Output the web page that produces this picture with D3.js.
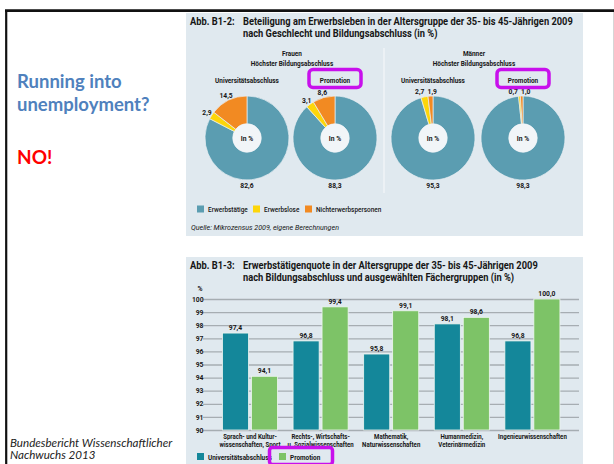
<!DOCTYPE html>
<html><head><meta charset="utf-8">
<script src="https://cdn.jsdelivr.net/npm/d3@7"></script>
<style>
html,body{margin:0;padding:0;background:#fff;}
svg{display:block;}
</style></head>
<body>
<svg id="c" width="614" height="464"></svg>
<script>
// ---------- data ----------
const pieCategories = ["Erwerbstätige", "Erwerbslose", "Nichterwerbspersonen"];
const pieGroups = ["Frauen", "Männer"];
const pieTitles = ["Universitätsabschluss", "Promotion"];
const frauenUni = [82.6, 2.9, 14.5];
const frauenPromo = [88.3, 3.1, 8.6];
const maennerUni = [95.3, 2.7, 1.9];
const maennerPromo = [98.3, 0.7, 1.0];

const barCategories = [
  ["Sprach- und Kultur-", "wissenschaften, Sport"],
  ["Rechts-, Wirtschafts-", "u. Sozialwissenschaften"],
  ["Mathematik,", "Naturwissenschaften"],
  ["Humanmedizin,", "Veterinärmedizin"],
  ["Ingenieurwissenschaften"]
];
const barSeries = ["Universitätsabschluss", "Promotion"];
const uniValues = [97.4, 96.8, 95.8, 98.1, 96.8];
const promoValues = [94.1, 99.4, 99.1, 98.6, 100.0];
const yTicks = [90, 91, 92, 93, 94, 95, 96, 97, 98, 99, 100];

// ---------- styles ----------
const pieColors = ["#5b9db1", "#fdd60a", "#f28a22"];
const barColors = ["#14879a", "#7dc367"];
const panelBg = "#e0e9ef";
const magenta = "#c810ec";
const ink = "#161616";
const FONT = "Roboto, 'Noto Sans', sans-serif";
const fmt = v => d3.format(".1f")(v).replace(".", ",");

const svg = d3.select("#c");

function measure(str, size, weight, style) {
  const t = svg.append("text").attr("font-family", FONT).attr("font-size", size)
    .attr("font-weight", weight).attr("font-style", style).text(str);
  const w = t.node().getComputedTextLength();
  t.remove();
  return w;
}
// condensed-style factor: width of a reference string at a given size
function cond(str, size, target, weight = "bold", style = "normal") {
  return target / measure(str, size, weight, style);
}
// condensed text helper (real text, horizontally compressed)
function T(parent, x, y, str, o = {}) {
  return parent.append("text")
    .attr("transform", `translate(${x},${y}) scale(${o.sx ?? 0.8},1)`)
    .attr("font-family", FONT)
    .attr("font-weight", o.weight ?? "bold")
    .attr("font-style", o.style ?? "normal")
    .attr("font-size", o.size ?? 7.5)
    .attr("text-anchor", o.anchor ?? "start")
    .attr("fill", o.fill ?? ink)
    .text(str);
}

// slide frame
svg.append("rect").attr("x", 0).attr("y", 0).attr("width", 614).attr("height", 464).attr("fill", "#fff");
svg.append("line").attr("x1", 613.5).attr("x2", 613.5).attr("y1", 12).attr("y2", 464).attr("stroke", "#d6d6d6").attr("stroke-width", 1);

// panels
svg.append("rect").attr("x", 186).attr("y", 13).attr("width", 397).attr("height", 223).attr("fill", panelBg);
svg.append("rect").attr("x", 186).attr("y", 257).attr("width", 397).attr("height", 207).attr("fill", panelBg);

svg.append("line").attr("x1", 5).attr("x2", 614).attr("y1", 10.7).attr("y2", 10.7).attr("stroke", "#111").attr("stroke-width", 2.8);
svg.append("line").attr("x1", 6.2).attr("x2", 6.2).attr("y1", 10).attr("y2", 464).attr("stroke", "#111").attr("stroke-width", 2.2);

// left slide text
const lt = svg.append("g").attr("font-family", "Lato, 'Open Sans', sans-serif").attr("font-weight", "bold");
lt.append("text").attr("x", 17).attr("y", 88).attr("font-size", 18.5).attr("fill", "#4f81bd").text("Running into");
lt.append("text").attr("x", 17).attr("y", 111).attr("font-size", 18.5).attr("fill", "#4f81bd").text("unemployment?");
lt.append("text").attr("x", 17).attr("y", 164).attr("font-size", 19).attr("fill", "#ff0000").text("NO!");
const st = svg.append("g").attr("font-family", "Lato, 'Open Sans', sans-serif").attr("font-style", "italic").attr("font-size", 11.6).attr("fill", "#222");
st.append("text").attr("x", 10).attr("y", 446.5).text("Bundesbericht Wissenschaftlicher");
st.append("text").attr("x", 10).attr("y", 459).text("Nachwuchs 2013");

// style factors
const tSize = 10.8;
const tSx = cond("Beteiligung am Erwerbsleben in der Altersgruppe der 35- bis 45-Jährigen 2009", tSize, 330);
const lSize = 7.5;
const lSx = cond("Universitätsabschluss", lSize, 64);
const nSize = 7.3;
const nSx = cond("82,6", nSize, 13.3);
const cSize = 7;
const cSx = cond("Ingenieurwissenschaften", cSize, 69);
const titleOpt = {size: tSize, sx: tSx};

// ---------- top panel ----------
T(svg, 190, 25, "Abb. B1-2:", titleOpt);
T(svg, 243, 25, "Beteiligung am Erwerbsleben in der Altersgruppe der 35- bis 45-Jährigen 2009", titleOpt);
T(svg, 243, 37, "nach Geschlecht und Bildungsabschluss (in %)", titleOpt);

svg.append("line").attr("x1", 384).attr("x2", 384).attr("y1", 48).attr("y2", 193).attr("stroke", "#f4f7f9").attr("stroke-width", 1.2);

const groupCenters = [292, 474];
pieGroups.forEach((g, i) => {
  T(svg, groupCenters[i], 56, g, {size: lSize, sx: lSx, anchor: "middle"});
  T(svg, groupCenters[i], 66, "Höchster Bildungsabschluss", {size: lSize, sx: lSx, anchor: "middle"});
});

const pies = [
  {vals: frauenUni, cx: 247, title: pieTitles[0]},
  {vals: frauenPromo, cx: 335, title: pieTitles[1]},
  {vals: maennerUni, cx: 433, title: pieTitles[0]},
  {vals: maennerPromo, cx: 523, title: pieTitles[1]}
];
const cy = 138, rO = 42, rI = 14.2, rL = 47.5;
const pieGen = d3.pie().sort(null).value(d => d);
const arcGen = d3.arc().innerRadius(rI).outerRadius(rO);

pies.forEach(p => {
  const g = svg.append("g").attr("transform", `translate(${p.cx},${cy})`);
  const arcs = pieGen(p.vals);
  g.selectAll("path").data(arcs).join("path")
    .attr("d", arcGen).attr("fill", (d, i) => pieColors[i])
    .attr("stroke", "#e9eff3").attr("stroke-width", 0.7);
  g.append("circle").attr("r", rI).attr("fill", "#f1f5f8");
  T(g, 0, 2.8, "In %", {size: nSize, sx: nSx, anchor: "middle"});
  T(svg, p.cx, 83, p.title, {size: lSize, sx: lSx, anchor: "middle"});
  if (p.title === "Promotion") {
    svg.append("rect").attr("x", p.cx - 26).attr("y", 69.5).attr("width", 52).attr("height", 18).attr("rx", 4)
      .attr("fill", "none").attr("stroke", magenta).attr("stroke-width", 3.5);
  }
  const labs = arcs.map((a, i) => {
    if (i === 0) return {x: 0, y: 47, v: a.data};
    const ang = (a.startAngle + a.endAngle) / 2;
    return {x: Math.sin(ang) * rL, y: -Math.cos(ang) * rL, v: a.data};
  });
  for (let k = 1; k < labs.length - 1; k++) {
    const a = labs[k], b = labs[k + 1];
    if (Math.abs(a.x - b.x) < 12 && Math.abs(a.y - b.y) < 8) {
      const m = (a.x + b.x) / 2;
      a.x = m - 7; b.x = m + 5.5;
      const my = (a.y + b.y) / 2; a.y = my; b.y = my;
    }
  }
  labs.forEach(l => T(g, l.x, l.y + 3, fmt(l.v), {size: nSize, sx: nSx, anchor: "middle"}));
});

// top legend
const legX = [197, 253, 305];
pieCategories.forEach((c, i) => {
  svg.append("rect").attr("x", legX[i]).attr("y", 205.5).attr("width", 7).attr("height", 7).attr("fill", pieColors[i]);
  T(svg, legX[i] + 11, 212, c, {size: lSize, sx: lSx, weight: 500});
});
T(svg, 191, 230, "Quelle: Mikrozensus 2009, eigene Berechnungen",
  {size: 7.2, sx: cond("Quelle: Mikrozensus 2009, eigene Berechnungen", 7.2, 148, "normal", "italic"), weight: "normal", style: "italic"});

// ---------- bottom panel ----------
T(svg, 190, 268.5, "Abb. B1-3:", titleOpt);
T(svg, 243, 268.5, "Erwerbstätigenquote in der Altersgruppe der 35- bis 45-Jährigen 2009", titleOpt);
T(svg, 243, 280.5, "nach Bildungsabschluss und ausgewählten Fächergruppen (in %)", titleOpt);

const y = d3.scaleLinear().domain([90, 100]).range([430, 299]);
const x0 = d3.scaleBand().domain(d3.range(barCategories.length)).range([214.7, 567.7]).paddingInner(0.22).paddingOuter(0.11);
const x1 = d3.scaleBand().domain(barSeries).range([0, x0.bandwidth()]).paddingInner(0.1);

T(svg, 200, 290.5, "%", {size: nSize, sx: nSx, anchor: "middle"});

const yAxis = d3.axisLeft(y).tickValues(yTicks).tickSize(-(579 - 206)).tickPadding(3).tickFormat(d3.format("d"));
const ya = svg.append("g").attr("transform", "translate(206,0)").call(yAxis);
ya.select(".domain").remove();
ya.selectAll(".tick line").attr("stroke", "#a6adb2").attr("stroke-width", 1.3).attr("x1", -3);
ya.selectAll(".tick text").remove();
yTicks.forEach(t => T(svg, 203.5, y(t) + 2.6, t, {size: nSize, sx: nSx, anchor: "end"}));

const bars = barCategories.map((c, i) => ({i, vals: [uniValues[i], promoValues[i]]}));
const bg = svg.selectAll(".bg").data(bars).join("g").attr("class", "bg").attr("transform", d => `translate(${x0(d.i)},0)`);
bg.selectAll("rect").data(d => d.vals.map((v, k) => ({v, k}))).join("rect")
  .attr("x", d => x1(barSeries[d.k])).attr("width", x1.bandwidth())
  .attr("y", d => y(d.v)).attr("height", d => y(90) - y(d.v))
  .attr("fill", d => barColors[d.k]).attr("stroke", "#eef6f0").attr("stroke-width", 0.8);
bg.each(function(d) {
  const gg = d3.select(this);
  d.vals.forEach((v, k) => T(gg, x1(barSeries[k]) + x1.bandwidth() / 2, y(v) - 3, fmt(v), {size: nSize, sx: nSx, anchor: "middle"}));
});

barCategories.forEach((lines, i) => {
  lines.forEach((ln, j) => T(svg, x0(i) + x0.bandwidth() / 2, 439 + j * 7.7, ln, {size: cSize, sx: cSx, anchor: "middle"}));
});

// bottom legend
const blX = [197, 279];
barSeries.forEach((s, i) => {
  svg.append("rect").attr("x", blX[i]).attr("y", 453).attr("width", 7).attr("height", 7).attr("fill", barColors[i]);
  T(svg, blX[i] + 11, 459.5, s, {size: lSize, sx: lSx});
});
svg.append("rect").attr("x", 269.5).attr("y", 447.5).attr("width", 63).attr("height", 17).attr("rx", 3)
  .attr("fill", "none").attr("stroke", magenta).attr("stroke-width", 3.5);
</script>
</body></html>
